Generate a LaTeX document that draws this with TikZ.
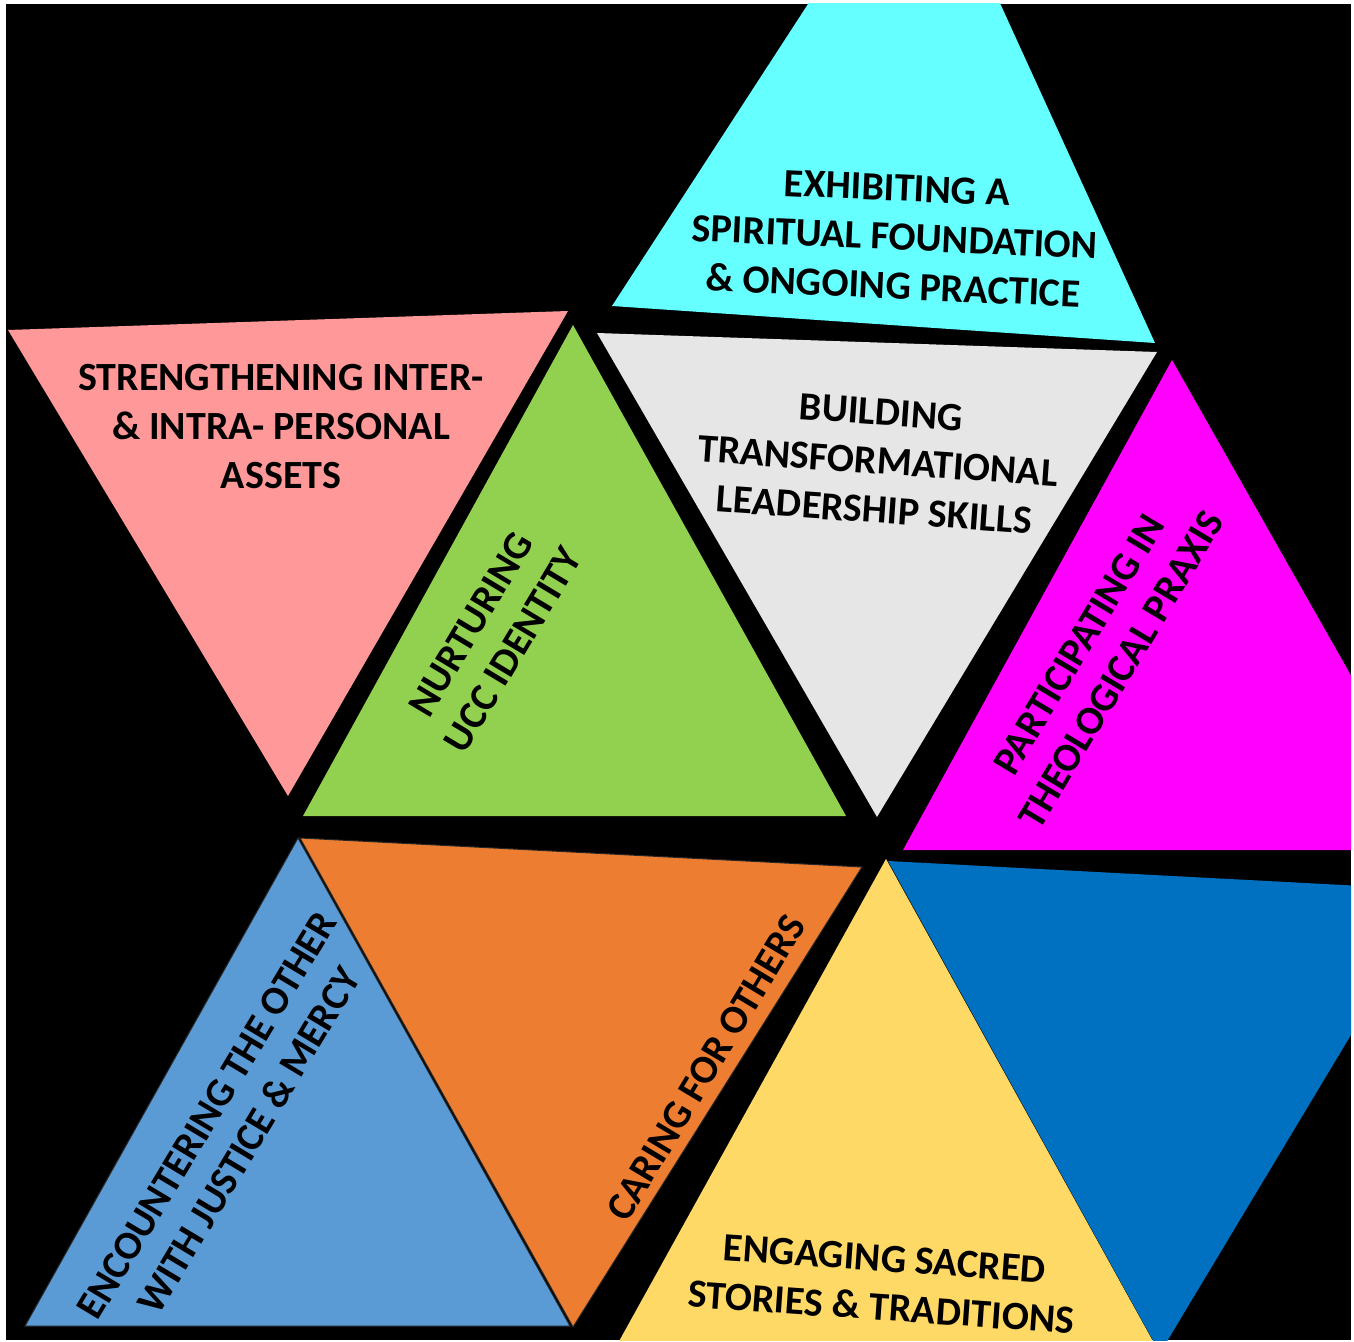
\documentclass[tikz,border=0pt]{standalone}
\usepackage{fontspec}
\setmainfont{Carlito}
\definecolor{cCyan}{HTML}{66FFFF}
\definecolor{cPink}{HTML}{FF9999}
\definecolor{cGreen}{HTML}{92D050}
\definecolor{cGrey}{HTML}{E6E6E6}
\definecolor{cMag}{HTML}{FF00FF}
\definecolor{cLBlue}{HTML}{5B9BD5}
\definecolor{cOrange}{HTML}{ED7D31}
\definecolor{cYellow}{HTML}{FFD966}
\definecolor{cDBlue}{HTML}{0070C0}
\begin{document}
\begin{tikzpicture}[x=0.5pt,y=-0.5pt,
  lbl/.style={font=\bfseries\fontsize{20}{24.5}\selectfont, align=center, inner sep=0pt, text=black},
  outl/.style={draw=black!85, line width=0.5pt, line join=miter}]
\useasboundingbox (0,0) rectangle (1354,1342);
\fill[white] (0,0) rectangle (1354,1342);
\fill[black] (6,4) rectangle (1351,1340);
\begin{scope}
\clip (6,4) rectangle (1351,1340);
% top cyan
\fill[cCyan] (612,306) -- (921,-170) -- (1155,343) -- cycle;
% pink inverted
\fill[cPink] (8,330) -- (568,311) -- (288,796) -- cycle;
% green
\fill[cGreen] (573,325) -- (846,816) -- (303,816) -- cycle;
% grey inverted
\fill[cGrey] (597,333) -- (1157,352) -- (877,817) -- cycle;
% magenta
\fill[cMag] (1172,360) -- (1450,850) -- (903,850) -- cycle;
% light blue
\filldraw[cLBlue, outl] (298,838) -- (570,1326) -- (25,1326) -- cycle;
% orange inverted
\filldraw[cOrange, outl] (300,838) -- (862,867) -- (573,1327) -- cycle;
% yellow
\fill[cYellow] (886,859) -- (1170,1372) -- (602,1372) -- cycle;
% dark blue inverted
\fill[cDBlue] (888,861) -- (1438,890) -- (1160,1353) -- cycle;
\end{scope}
% labels
\node[lbl, rotate=-2.5] (spirit) at (895,237) {EXHIBITING A\\SPIRITUAL FOUNDATION\\\& ONGOING PRACTICE};
\node[lbl] (assets) at (281,427) {STRENGTHENING INTER-\\\& INTRA- PERSONAL\\ASSETS};
\node[lbl, rotate=-4] (lead) at (878,461) {BUILDING\\TRANSFORMATIONAL\\LEADERSHIP SKILLS};
\node[lbl, rotate=59] (ucc) at (492,637) {NURTURING\\UCC IDENTITY};
\node[lbl, rotate=59] (praxis) at (1100,657) {PARTICIPATING IN\\THEOLOGICAL PRAXIS};
\node[lbl, rotate=59] (justice) at (228,1128) {ENCOUNTERING THE OTHER\\WITH JUSTICE \& MERCY};
\node[lbl, rotate=59] (caring) at (706,1068) {CARING FOR OTHERS};
\node[lbl, rotate=-4] (sacred) at (883,1283) {ENGAGING SACRED\\STORIES \& TRADITIONS};
\end{tikzpicture}
\end{document}
